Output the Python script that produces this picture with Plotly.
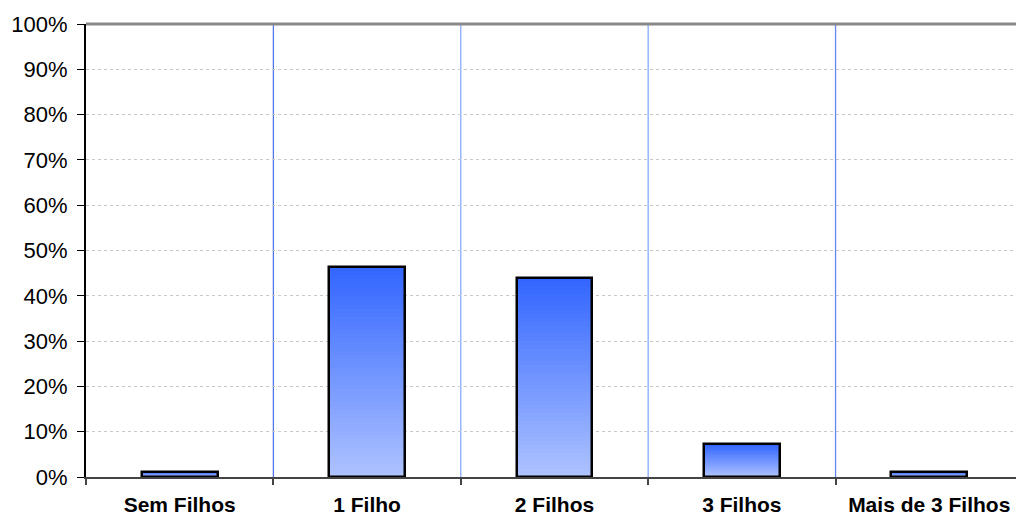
import plotly.graph_objects as go

categories = ["Sem Filhos", "1 Filho", "2 Filhos", "3 Filhos", "Mais de 3 Filhos"]
values = [0.012, 0.464, 0.440, 0.072, 0.012]
y_ticks = [i / 10 for i in range(11)]

TOP = (0x33, 0x66, 0xFF)
BOTTOM = (0xB0, 0xC4, 0xFF)
N = 50
BAR_W = 0.405

def mix(f):
    r = [round(BOTTOM[i] + (TOP[i] - BOTTOM[i]) * f) for i in range(3)]
    return f"rgb({r[0]},{r[1]},{r[2]})"

fig = go.Figure()
for k in range(N):
    f = (N - k) / N
    fig.add_trace(go.Bar(
        x=categories, y=[v * f for v in values], width=BAR_W,
        marker=dict(color=mix(f), line=dict(width=0)),
        showlegend=False, hoverinfo="skip"))
fig.add_trace(go.Bar(
    x=categories, y=values, width=BAR_W,
    marker=dict(color="rgba(0,0,0,0)", line=dict(color="black", width=2.5)),
    showlegend=False))

sep_colors = ["#5577ee", "#88aaff", "#88aaff", "#6688ee"]
for i, c in enumerate(sep_colors):
    fig.add_shape(type="line", xref="x", yref="paper", x0=i + 0.5, x1=i + 0.5,
                  y0=0, y1=1, line=dict(color=c, width=1.3), layer="below")
fig.add_shape(type="line", xref="paper", yref="paper", x0=0, x1=1, y0=1, y1=1,
              line=dict(color="#888888", width=3))

fig.update_layout(
    width=1016, height=518,
    margin=dict(l=86, r=0, t=24, b=41),
    paper_bgcolor="white", plot_bgcolor="white",
    barmode="overlay", bargap=0,
    font=dict(family="Liberation Sans, Arial, sans-serif", color="black"),
    xaxis=dict(type="category", categoryorder="array", categoryarray=categories,
               range=[-0.5, 4.463], tickson="boundaries", ticks="outside",
               ticklen=6, tickcolor="#444", tickwidth=1.5,
               showline=True, linecolor="#444", linewidth=2,
               showgrid=False, tickfont=dict(size=21, weight="bold"),
               ticklabelstandoff=8, automargin=False),
    yaxis=dict(range=[0, 1], tickvals=y_ticks, tickformat=".0%",
               ticks="outside", ticklen=7, tickcolor="black",
               showline=True, linecolor="black", linewidth=2,
               showgrid=True, gridcolor="#c8c8c8", griddash="dot", gridwidth=1,
               zeroline=False, tickfont=dict(size=22), ticklabelstandoff=5,
               automargin=False),
)

fig.write_html("out.html")
